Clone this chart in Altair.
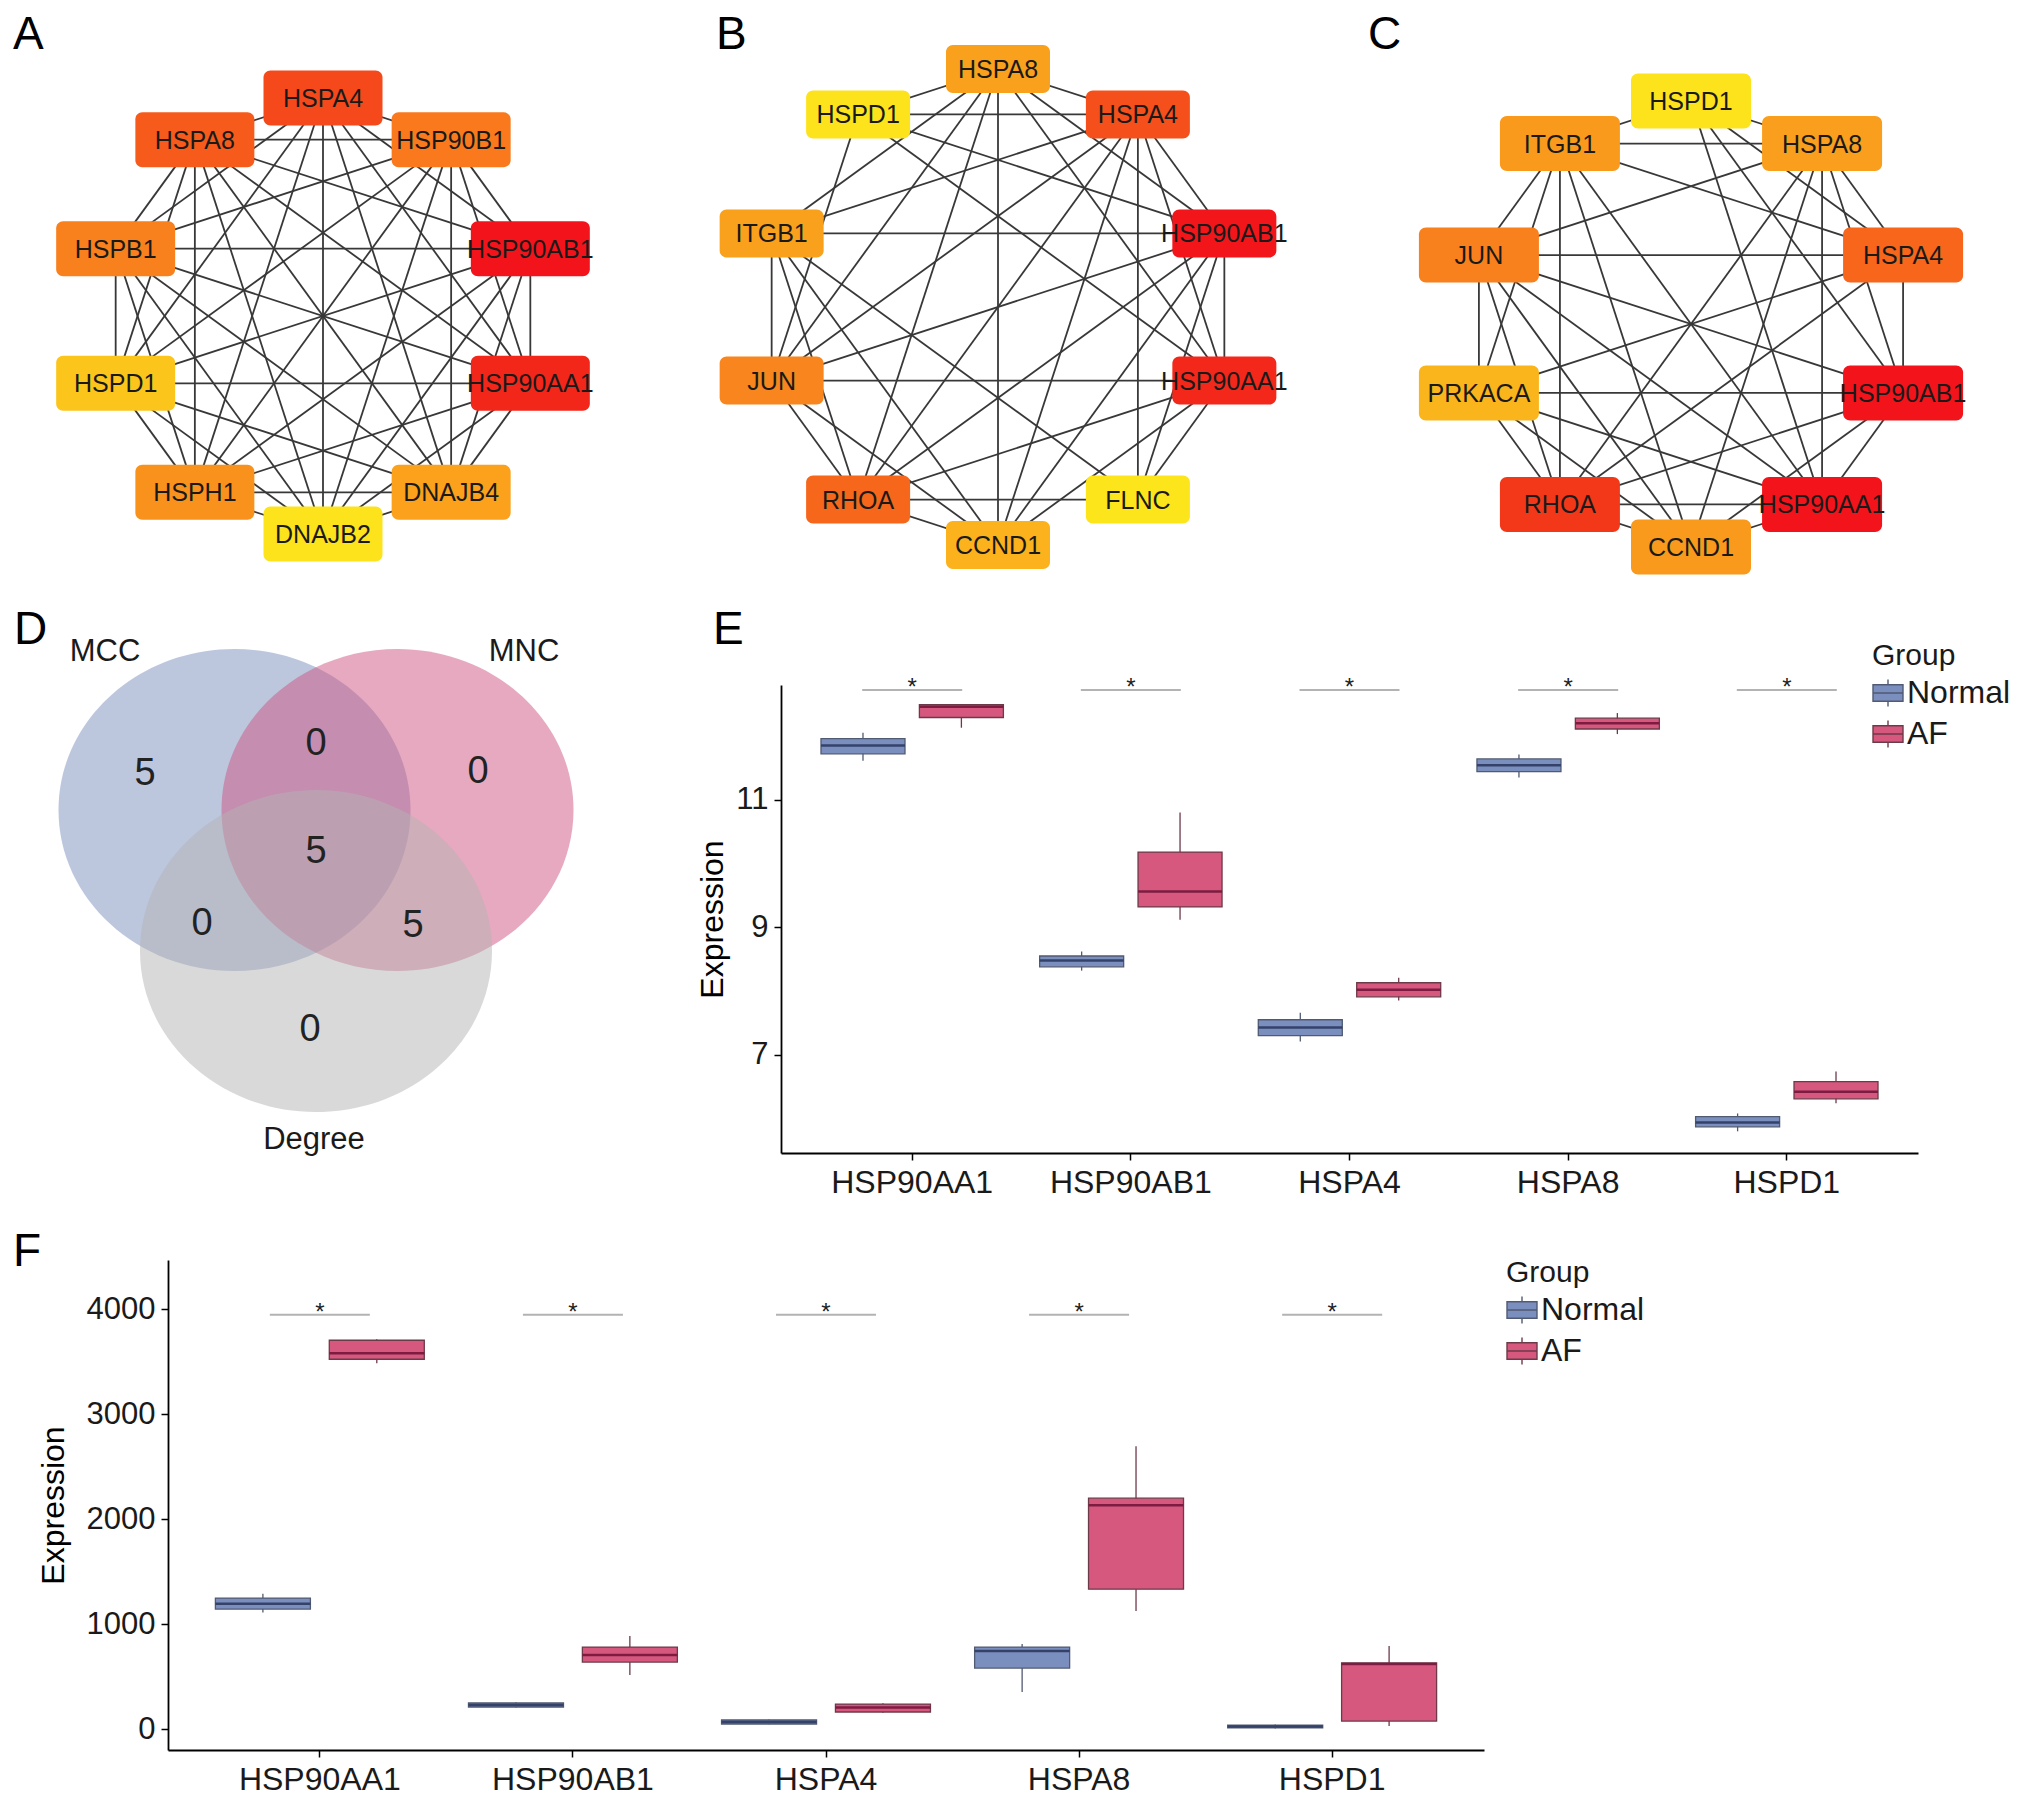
import math
import altair as alt
import pandas as pd

FONT = "Liberation Sans"

# ---------------- data: networks (A, B, C) ----------------
netA_nodes = ["HSPA4", "HSP90B1", "HSP90AB1", "HSP90AA1", "DNAJB4",
              "DNAJB2", "HSPH1", "HSPD1", "HSPB1", "HSPA8"]
netA_colors = ["#f5491b", "#f9791c", "#f2141a", "#f3261a", "#fba11c",
               "#fde31c", "#f9921c", "#fcc51c", "#f8801d", "#f65b1b"]
netA_edges = [(0, 1), (0, 2), (0, 3), (0, 4), (0, 5), (0, 6), (0, 7), (0, 8), (0, 9),
              (1, 2), (1, 3), (1, 4), (1, 5), (1, 6), (1, 7), (1, 8), (1, 9),
              (2, 3), (2, 4), (2, 5), (2, 6), (2, 7), (2, 8), (2, 9),
              (3, 4), (3, 5), (3, 6), (3, 7), (3, 8), (3, 9),
              (4, 5), (4, 6), (4, 7), (4, 8), (4, 9),
              (5, 6), (5, 7), (5, 8), (5, 9),
              (6, 7), (6, 8), (6, 9),
              (7, 8), (7, 9),
              (8, 9)]

netB_nodes = ["HSPA8", "HSPA4", "HSP90AB1", "HSP90AA1", "FLNC",
              "CCND1", "RHOA", "JUN", "ITGB1", "HSPD1"]
netB_colors = ["#f9a11d", "#f5501b", "#f2151a", "#f3281a", "#fde51c",
               "#fbb21c", "#f6661b", "#f8851d", "#f9a01d", "#fde31c"]
netB_edges = [(0, 1), (0, 9), (0, 5), (0, 8), (0, 7), (0, 6), (0, 3), (0, 2),
              (1, 9), (1, 8), (1, 7), (1, 6), (1, 5), (1, 4), (1, 3), (1, 2),
              (2, 3), (2, 8), (2, 7), (2, 6), (2, 5), (2, 4), (2, 9),
              (3, 7), (3, 6), (3, 5), (3, 4), (3, 9),
              (4, 6), (4, 8),
              (5, 6), (5, 7), (5, 8),
              (6, 7), (6, 8),
              (7, 8), (7, 9)]

netC_nodes = ["HSPD1", "HSPA8", "HSPA4", "HSP90AB1", "HSP90AA1",
              "CCND1", "RHOA", "PRKACA", "JUN", "ITGB1"]
netC_colors = ["#fde31c", "#fa9f1d", "#f7661b", "#f2141a", "#f2141a",
               "#fa9a1d", "#f3381a", "#fbb51c", "#f8801d", "#fa9a1d"]
netC_edges = [(0, 1), (0, 9), (0, 4), (0, 3), (0, 2),
              (1, 9), (1, 8), (1, 6), (1, 5), (1, 4), (1, 3), (1, 2),
              (2, 8), (2, 3), (2, 9), (2, 7), (2, 6),
              (3, 7), (3, 8), (3, 6), (3, 4), (3, 5),
              (4, 6), (4, 5), (4, 9), (4, 8), (4, 7),
              (5, 6), (5, 9), (5, 8), (5, 7),
              (6, 9), (6, 8), (6, 7),
              (7, 8), (7, 9),
              (8, 9)]

# ---------------- data: Venn (D) ----------------
venn_sets = ["MCC", "MNC", "Degree"]
venn_colors = ["#7990be", "#cd537f", "#b3b3b3"]
venn_regions = ["MCC", "MCC&MNC", "MNC", "MCC&MNC&Degree", "MCC&Degree", "MNC&Degree", "Degree"]
venn_counts = [5, 0, 0, 5, 0, 5, 0]

# ---------------- data: boxplots (E, F) ----------------
genes = ["HSP90AA1", "HSP90AB1", "HSPA4", "HSPA8", "HSPD1"]
groups = ["Normal", "AF"]
# (lower whisker, Q1, median, Q3, upper whisker)
e_normal = [(11.61, 11.72, 11.85, 11.96, 12.05), (8.32, 8.38, 8.48, 8.55, 8.62),
            (7.21, 7.30, 7.43, 7.55, 7.66), (11.35, 11.44, 11.54, 11.64, 11.71),
            (5.80, 5.87, 5.94, 6.03, 6.08)]
e_af = [(12.13, 12.29, 12.46, 12.49, 12.50), (9.12, 9.32, 9.56, 10.18, 10.80),
        (7.85, 7.91, 8.02, 8.13, 8.21), (12.03, 12.11, 12.20, 12.28, 12.36),
        (6.24, 6.31, 6.42, 6.58, 6.74)]
e_sig_y = [12.72, 12.72, 12.72, 12.72, 12.72]
e_sig_txt = ["*", "*", "*", "*", "*"]

f_normal = [(1110, 1143, 1195, 1248, 1290), (205, 210, 229, 248, 255),
            (45, 48, 67, 86, 90), (352, 581, 743, 781, 810),
            (5, 10, 24, 38, 42)]
f_af = [(3486, 3524, 3581, 3705, 3715), (514, 638, 705, 781, 886),
        (155, 162, 205, 238, 245), (1124, 1333, 2133, 2200, 2695),
        (29, 76, 619, 629, 790)]
f_sig_y = [3948, 3948, 3948, 3948, 3948]
f_sig_txt = ["*", "*", "*", "*", "*"]

e_yticks = [7, 9, 11]
f_yticks = [0, 1000, 2000, 3000, 4000]

# ---------------- layout (pixels of the 2016 x 1789 canvas) ----------------
W, H = 2016, 1789
PX = alt.Scale(domain=[0, W], range=[0, W], nice=False, zero=False)
PY = alt.Scale(domain=[0, H], range=[0, H], nice=False, zero=False)
BOX_PATH = "M-1,-0.55H1V0.55H-1Z M-1,0H1 M0,-0.55V-0.9 M0,0.55V0.9"
ELLIPSE = "M-1,0A1,0.915,0,1,1,1,0A1,0.915,0,1,1,-1,0Z"


def letter(txt, x, y):
    return alt.Chart(pd.DataFrame({"t": [txt]})).mark_text(
        font=FONT, fontSize=46, align="left", baseline="alphabetic", color="#000"
    ).encode(x=alt.value(x), y=alt.value(y), text="t:N")


def network(nodes, colors, edges, cx, cy, r, bw, bh):
    n = len(nodes)
    px = [cx + r * math.sin(2 * math.pi * k / n) for k in range(n)]
    py = [cy - r * math.cos(2 * math.pi * k / n) for k in range(n)]
    ndf = pd.DataFrame({"name": nodes, "fill": colors, "x": px, "y": py,
                        "x0": [v - bw / 2 for v in px], "x1": [v + bw / 2 for v in px],
                        "y0": [v - bh / 2 for v in py], "y1": [v + bh / 2 for v in py]})
    edf = pd.DataFrame({"xa": [px[a] for a, b in edges], "ya": [py[a] for a, b in edges],
                        "xb": [px[b] for a, b in edges], "yb": [py[b] for a, b in edges]})
    e = alt.Chart(edf).mark_rule(color="#383838", strokeWidth=1.8).encode(
        x=alt.X("xa:Q", scale=PX, axis=None), y=alt.Y("ya:Q", scale=PY, axis=None),
        x2="xb:Q", y2="yb:Q")
    boxes = alt.Chart(ndf).mark_rect(cornerRadius=7).encode(
        x=alt.X("x0:Q", scale=PX, axis=None), x2="x1:Q",
        y=alt.Y("y0:Q", scale=PY, axis=None), y2="y1:Q",
        fill=alt.Fill("fill:N", scale=None))
    labels = alt.Chart(ndf).mark_text(font=FONT, fontSize=25, color="#1a1a1a", dy=1).encode(
        x=alt.X("x:Q", scale=PX, axis=None), y=alt.Y("y:Q", scale=PY, axis=None),
        text="name:N")
    return [e, boxes, labels]


def venn(gx, gy):
    circ_off = {"MCC": (-81.5, -50), "MNC": (81.5, -50), "Degree": (0, 91)}
    lab_off = {"MCC": (-211, -208), "MNC": (208, -208), "Degree": (-2, 280)}
    reg_off = {"MCC": (-171, -86), "MCC&MNC": (0, -116), "MNC": (162, -88),
               "MCC&MNC&Degree": (0, -8), "MCC&Degree": (-114, 64),
               "MNC&Degree": (97, 66), "Degree": (-6, 170)}
    cdf = pd.DataFrame({"set": venn_sets, "fill": venn_colors,
                        "x": [gx + circ_off[s][0] for s in venn_sets],
                        "y": [gy + circ_off[s][1] for s in venn_sets],
                        "lx": [gx + lab_off[s][0] for s in venn_sets],
                        "ly": [gy + lab_off[s][1] for s in venn_sets]})
    rdf = pd.DataFrame({"region": venn_regions, "count": [str(c) for c in venn_counts],
                        "x": [gx + reg_off[r][0] for r in venn_regions],
                        "y": [gy + reg_off[r][1] for r in venn_regions]})
    circles = alt.Chart(cdf).mark_point(shape=ELLIPSE, size=(2 * 176) ** 2, filled=True,
                                        opacity=0.5, strokeWidth=0).encode(
        x=alt.X("x:Q", scale=PX, axis=None), y=alt.Y("y:Q", scale=PY, axis=None),
        fill=alt.Fill("fill:N", scale=None))
    setlab = alt.Chart(cdf).mark_text(font=FONT, fontSize=31, color="#1a1a1a").encode(
        x=alt.X("lx:Q", scale=PX, axis=None), y=alt.Y("ly:Q", scale=PY, axis=None),
        text="set:N")
    nums = alt.Chart(rdf).mark_text(font=FONT, fontSize=38, color="#222").encode(
        x=alt.X("x:Q", scale=PX, axis=None), y=alt.Y("y:Q", scale=PY, axis=None),
        text="count:N")
    return [circles, setlab, nums]


def box_panel(normal, af, sig_y, sig_txt, x0, x1, ybot, ytop, ydom, yticks, box_w,
              leg_xy, title_pad):
    rows = []
    for grp, stats in (("Normal", normal), ("AF", af)):
        for gene, (lo, q1, md, q3, hi) in zip(genes, stats):
            rows.append({"gene": gene, "Group": grp, "lo": lo, "q1": q1,
                         "md": md, "q3": q3, "hi": hi})
    df = pd.DataFrame(rows)
    sdf = pd.DataFrame({"gene": genes, "sig": sig_y, "txt": sig_txt})

    xax = alt.Axis(orient="bottom", offset=-(H - ybot), labelFont=FONT, labelFontSize=32,
                   labelColor="#1a1a1a", labelAngle=0, labelPadding=7, tickSize=7,
                   tickColor="#000", tickWidth=1.5, domainColor="#000", domainWidth=1.8,
                   grid=False)
    yax = alt.Axis(orient="left", offset=-x0, values=yticks, format="d", labelFont=FONT,
                   labelFontSize=31, labelColor="#1a1a1a", labelPadding=6, tickSize=7,
                   tickColor="#000", tickWidth=1.5, domainColor="#000", domainWidth=1.8,
                   grid=False, titleFont=FONT, titleFontSize=32, titleFontWeight="normal",
                   titleColor="#000", titlePadding=title_pad)
    xsc = alt.Scale(type="band", domain=genes, range=[x0, x1], paddingInner=0,
                    paddingOuter=0.1)
    ysc = alt.Scale(domain=ydom, range=[ybot, ytop], nice=False, zero=False)
    XO = alt.XOffset("Group:N", scale=alt.Scale(domain=groups, paddingInner=0,
                                                paddingOuter=0.111))

    def X(axis=None):
        return alt.X("gene:N", scale=xsc, axis=axis, title=None)

    def Y(f, axis=None):
        return alt.Y(f"{f}:Q", scale=ysc, axis=axis, title="Expression")

    stroke_sc = alt.Scale(domain=groups, range=["#505a72", "#6d3a4a"])
    fill_sc = alt.Scale(domain=groups, range=["#7b8fbf", "#d6587f"])
    med_sc = alt.Scale(domain=groups, range=["#34426a", "#7d1c40"])
    legend = alt.Legend(title="Group", orient="none", legendX=leg_xy[0], legendY=leg_xy[1],
                        symbolType=BOX_PATH, symbolSize=900, symbolStrokeColor="#4a4a4a",
                        symbolStrokeWidth=1.4, symbolOpacity=1, titleFont=FONT,
                        labelFont=FONT, titleFontSize=30, labelFontSize=32,
                        titleFontWeight="normal", titleColor="#1a1a1a",
                        labelColor="#1a1a1a", rowPadding=7, titlePadding=6,
                        labelOffset=3, padding=0)

    base = alt.Chart(df)
    whisk = base.mark_rule(strokeWidth=1.3).encode(
        x=X(), xOffset=XO, y=Y("lo"), y2="hi:Q",
        stroke=alt.Stroke("Group:N", scale=stroke_sc, legend=None))
    box = base.mark_bar(width=box_w, strokeWidth=1.3, opacity=1).encode(
        x=X(xax), xOffset=XO, y=Y("q1", yax), y2="q3:Q",
        fill=alt.Fill("Group:N", scale=fill_sc, legend=legend),
        stroke=alt.Stroke("Group:N", scale=stroke_sc, legend=None))
    med = base.mark_tick(size=box_w, thickness=2.5, opacity=1).encode(
        x=X(), xOffset=XO, y=Y("md"),
        color=alt.Color("Group:N", scale=med_sc, legend=None))
    sig = alt.Chart(sdf).mark_tick(size=100, thickness=2, color="#b3b3b3", opacity=1).encode(
        x=X(), y=Y("sig"))
    star = alt.Chart(sdf).mark_text(font=FONT, fontSize=24, dy=5, baseline="alphabetic",
                                    color="#222").encode(x=X(), y=Y("sig"), text="txt:N")
    return [whisk, box, med, sig, star]


layers = []
layers += network(netA_nodes, netA_colors, netA_edges, 315, 308, 218, 119, 55)
layers += network(netB_nodes, netB_colors, netB_edges, 990, 299, 238, 104, 48)
layers += network(netC_nodes, netC_colors, netC_edges, 1683, 316, 223, 120, 55)
layers += venn(308, 852)
layers += box_panel(e_normal, e_af, e_sig_y, e_sig_txt, 773, 1910, 1145, 677,
                    [5.46, 12.80], e_yticks, 84, (1864, 633), 6)
layers += box_panel(f_normal, f_af, f_sig_y, f_sig_txt, 160, 1476, 1742, 1252,
                    [-200, 4470], f_yticks, 95, (1498, 1250), 16)
layers += [letter("A", 5, 41), letter("B", 708, 41), letter("C", 1360, 41),
           letter("D", 6, 636), letter("E", 705, 636), letter("F", 5, 1258)]

chart = alt.layer(*layers).resolve_scale(
    x="independent", y="independent", xOffset="independent", fill="independent",
    stroke="independent", color="independent"
).properties(width=W, height=H, padding=0).configure_view(stroke=None)

chart.save("out.html", embed_options={"renderer": "svg", "actions": False})
